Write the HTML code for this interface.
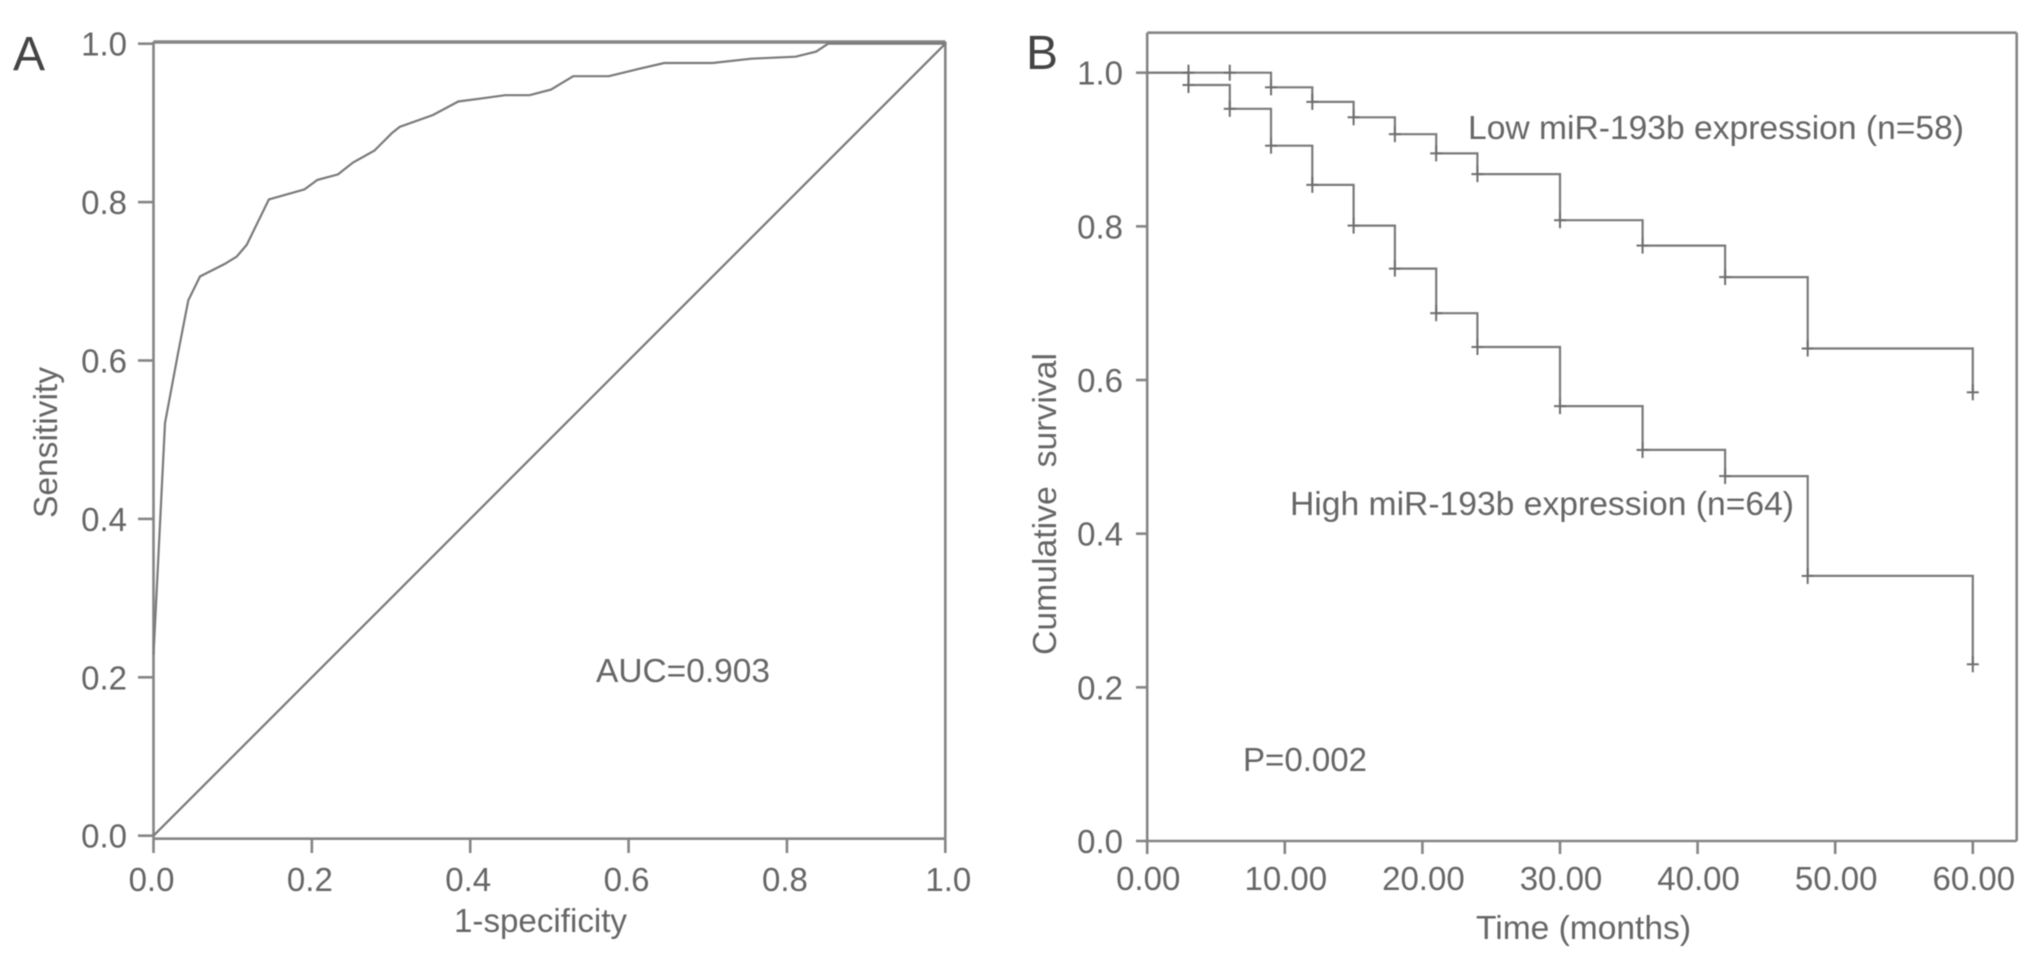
<!DOCTYPE html>
<html lang="en">
<head>
<meta charset="utf-8">
<title>ROC curve and Kaplan-Meier survival curves</title>
<style>
  html, body { margin: 0; padding: 0; background: #fff; width: 2032px; height: 960px; overflow: hidden; }
  svg { display: block; filter: blur(0.6px); }
  text { font-family: "Liberation Sans", sans-serif; fill: #666; font-size: 33px; white-space: pre; }
  .frame { stroke: #858585; stroke-width: 2.6; fill: none; }
  .curve { stroke: #7a7a7a; stroke-width: 2.2; fill: none; stroke-linejoin: miter; }
  .cens { stroke: #6e6e6e; stroke-width: 2; fill: none; }
</style>
</head>
<body>
<svg id="chart" xmlns="http://www.w3.org/2000/svg" width="2032" height="960" viewBox="0 0 2032 960">
  <rect x="0" y="0" width="2032" height="960" fill="#ffffff"/>
  <g id="panelA">
    <text x="13" y="70" style="font-size:48px;fill:#444">A</text>
    <text x="454" y="932" textLength="173" lengthAdjust="spacingAndGlyphs">1-specificity</text>
    <text transform="translate(57,518) rotate(-90)" textLength="151" lengthAdjust="spacingAndGlyphs">Sensitivity</text>
    <text x="596" y="682" textLength="174" lengthAdjust="spacingAndGlyphs">AUC=0.903</text>
  </g>
  <g id="panelB">
    <text x="1026" y="69" style="font-size:48px;fill:#444">B</text>
    <text x="1476" y="939" textLength="215" lengthAdjust="spacingAndGlyphs">Time (months)</text>
    <text transform="translate(1056,655) rotate(-90)" textLength="302" lengthAdjust="spacingAndGlyphs">Cumulative  survival</text>
    <text x="1468" y="139" textLength="496" lengthAdjust="spacingAndGlyphs">Low miR-193b expression (n=58)</text>
    <text x="1290" y="515" textLength="504" lengthAdjust="spacingAndGlyphs">High miR-193b expression (n=64)</text>
    <text x="1243" y="771" textLength="124" lengthAdjust="spacingAndGlyphs">P=0.002</text>
  </g>
</svg>
<script>
// ROC panel data
const rocTicks = [0, 0.2, 0.4, 0.6, 0.8, 1.0];
const rocTickLabels = ['0.0', '0.2', '0.4', '0.6', '0.8', '1.0'];
const rocFpr = [0, 0.0145, 0.031, 0.044, 0.0587, 0.09, 0.105, 0.1177, 0.1457, 0.1907, 0.207, 0.233, 0.252, 0.279, 0.301, 0.311, 0.353, 0.385, 0.412, 0.444, 0.475, 0.502, 0.530, 0.575, 0.616, 0.645, 0.706, 0.755, 0.811, 0.837, 0.852, 1];
const rocTpr = [0.228, 0.521, 0.609, 0.676, 0.706, 0.722, 0.731, 0.746, 0.8034, 0.816, 0.828, 0.835, 0.850, 0.865, 0.887, 0.895, 0.910, 0.927, 0.9306, 0.935, 0.935, 0.942, 0.959, 0.959, 0.969, 0.9756, 0.9756, 0.981, 0.9836, 0.99, 1, 1];
const refLine = [0, 1];

// Survival panel data
const kmXTicks = [0, 10, 20, 30, 40, 50, 60];
const kmXTickLabels = ['0.00', '10.00', '20.00', '30.00', '40.00', '50.00', '60.00'];
const kmYTicks = [0, 0.2, 0.4, 0.6, 0.8, 1.0];
const kmYTickLabels = ['0.0', '0.2', '0.4', '0.6', '0.8', '1.0'];
const eventTimes = [3, 6, 9, 12, 15, 18, 21, 24, 30, 36, 42, 48, 60];
const lowSurvival = [1.0, 1.0, 0.981, 0.962, 0.942, 0.920, 0.895, 0.868, 0.808, 0.775, 0.734, 0.641, 0.584];
const highSurvival = [0.984, 0.953, 0.905, 0.854, 0.801, 0.745, 0.687, 0.643, 0.566, 0.509, 0.475, 0.345, 0.230];

const NS = 'http://www.w3.org/2000/svg';
const panelA = document.getElementById('panelA');
const panelB = document.getElementById('panelB');

const xA = v => 153.5 + v * 791.8;
const yA = v => 835.7 - v * 792;
const xB = v => 1147.2 + v * 13.76;
const yB = v => 841 - v * 768.3;

function line(parent, x1, y1, x2, y2, cls, name) {
  const el = document.createElementNS(NS, 'line');
  el.setAttribute('x1', x1);
  el.setAttribute('y1', y1);
  el.setAttribute('x2', x2);
  el.setAttribute('y2', y2);
  el.setAttribute('class', cls);
  
  
  parent.appendChild(el);
  return el;
}
function label(parent, x, y, anchor, str, name) {
  const el = document.createElementNS(NS, 'text');
  el.setAttribute('x', x);
  el.setAttribute('y', y);
  el.setAttribute('text-anchor', anchor);
  el.textContent = str;
  
  
  parent.appendChild(el);
  return el;
}
function polyline(parent, pts, name) {
  const el = document.createElementNS(NS, 'polyline');
  el.setAttribute('points', pts.map(p => p[0].toFixed(1) + ',' + p[1].toFixed(1)).join(' '));
  el.setAttribute('class', 'curve');
  
  
  parent.appendChild(el);
  return el;
}

// ---- Panel A frame and axes
line(panelA, 153.5, 42, 945.3, 42, 'frame', 'plot-top-border-roc').style.strokeWidth = '3.4';
line(panelA, 153.5, 838.7, 945.3, 838.7, 'frame', 'x-axis-roc');
line(panelA, 153.5, 41.5, 153.5, 838.7, 'frame', 'y-axis-roc');
line(panelA, 945.3, 41.5, 945.3, 838.7, 'frame', 'plot-right-border-roc');
rocTicks.forEach((t, i) => {
  line(panelA, xA(t), 838.7, xA(t), 853, 'frame', 'x-tick-roc');
  label(panelA, xA(t) - (t === 1 ? -3 : 2), 891, 'middle', rocTickLabels[i], 'x-tick-label-roc');
  line(panelA, 138, yA(t), 153.5, yA(t), 'frame', 'y-tick-roc');
  label(panelA, 127, yA(t) + 12, 'end', rocTickLabels[i], 'y-tick-label-roc');
});
polyline(panelA, refLine.map(v => [xA(v), yA(v)]), 'reference-diagonal');
polyline(panelA, rocFpr.map((f, i) => [xA(f), yA(rocTpr[i])]), 'roc-curve');

// ---- Panel B frame and axes
line(panelB, 1147.2, 32.7, 2016.7, 32.7, 'frame', 'plot-top-border-survival');
line(panelB, 1147.2, 841, 2016.7, 841, 'frame', 'x-axis-survival');
line(panelB, 1147.2, 32.7, 1147.2, 841, 'frame', 'y-axis-survival');
line(panelB, 2016.7, 32.7, 2016.7, 841, 'frame', 'plot-right-border-survival');
kmXTicks.forEach((t, i) => {
  line(panelB, xB(t), 841, xB(t), 854, 'frame', 'x-tick-survival');
  label(panelB, xB(t) + 1, 890, 'middle', kmXTickLabels[i], 'x-tick-label-survival');
});
kmYTicks.forEach((t, i) => {
  line(panelB, 1136, yB(t), 1147.2, yB(t), 'frame', 'y-tick-survival');
  label(panelB, 1123, yB(t) + 12, 'end', kmYTickLabels[i], 'y-tick-label-survival');
});

function stepPoints(values) {
  const pts = [[xB(0), yB(1)]];
  let prev = 1;
  eventTimes.forEach((t, i) => {
    pts.push([xB(t), yB(prev)]);
    pts.push([xB(t), yB(values[i])]);
    prev = values[i];
  });
  return pts;
}
function censorMarks(values, name) {
  eventTimes.forEach((t, i) => {
    line(panelB, xB(t), yB(values[i]) - 8, xB(t), yB(values[i]) + 8, 'cens', name);
    line(panelB, xB(t) - 6, yB(values[i]), xB(t) + 6, yB(values[i]), 'cens', name);
  });
}
polyline(panelB, stepPoints(lowSurvival), 'low-expression-curve');
polyline(panelB, stepPoints(highSurvival), 'high-expression-curve');
censorMarks(lowSurvival, 'low-expression-censor-mark');
censorMarks(highSurvival, 'high-expression-censor-mark');
</script>
</body>
</html>
